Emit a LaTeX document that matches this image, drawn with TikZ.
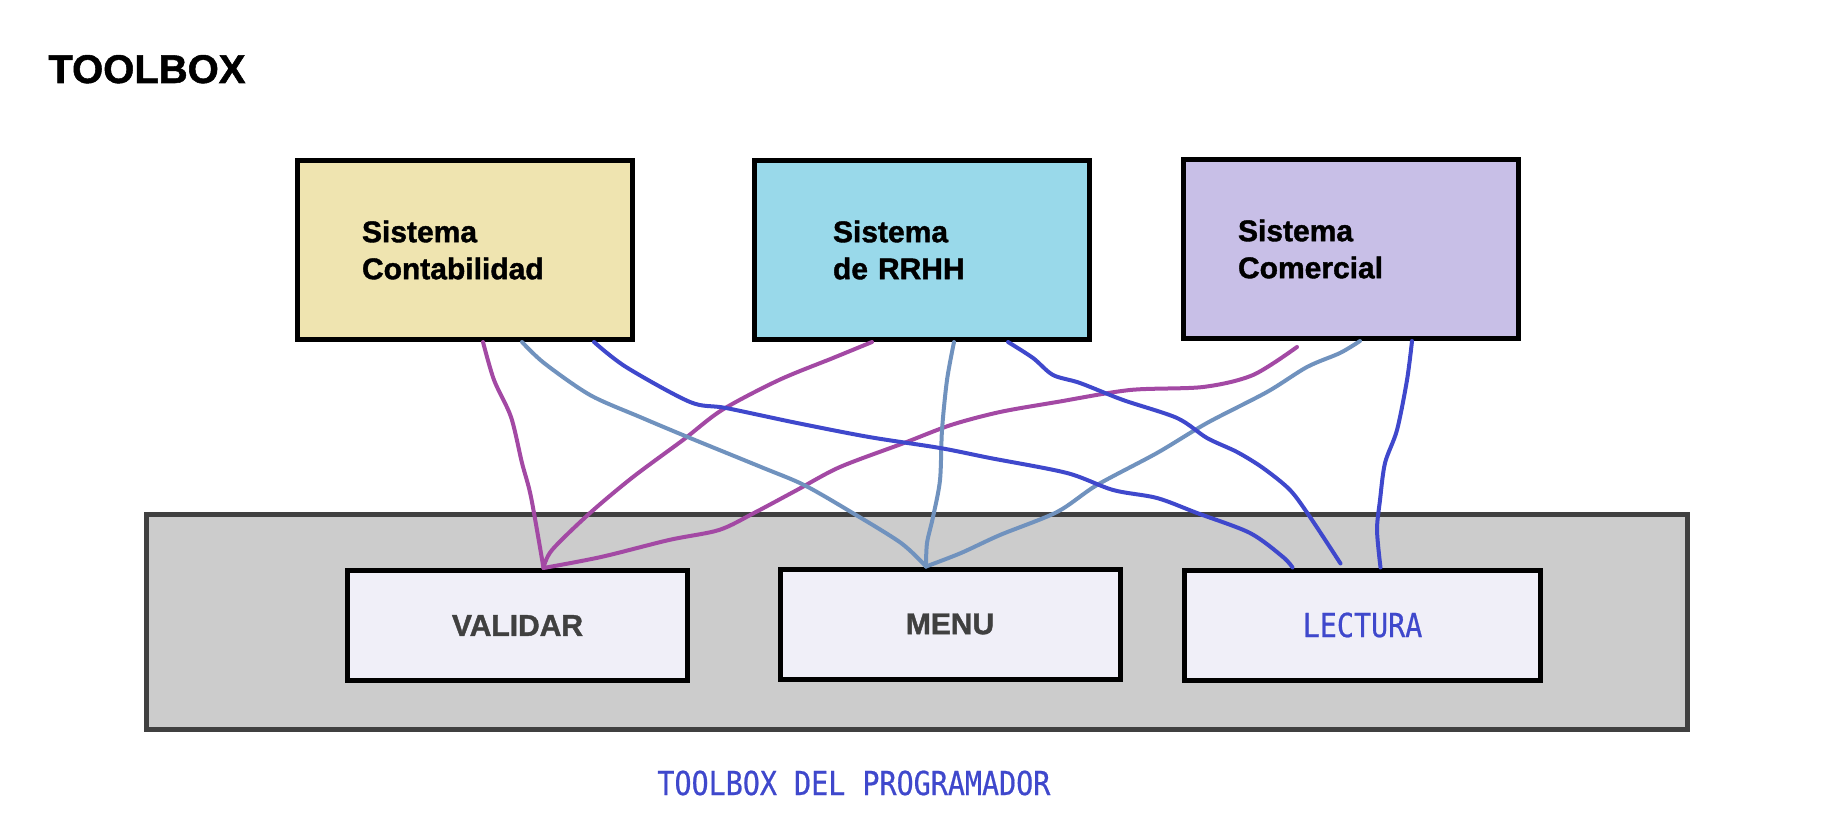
\documentclass[tikz,border=0pt]{standalone}
\usepackage{fontspec}
\setmainfont{Liberation Sans}
\newfontfamily\heavyfont[FakeBold=1.3]{Liberation Sans Bold}
\newfontfamily\monofont[FakeStretch=0.86,FakeBold=0.6]{DejaVu Sans Mono}
\usetikzlibrary{positioning}
\definecolor{tanfill}{HTML}{EFE4B0}
\definecolor{turqfill}{HTML}{99D9EA}
\definecolor{lavfill}{HTML}{C8BFE7}
\definecolor{modfill}{HTML}{F0EFF8}
\definecolor{boxgray}{HTML}{CCCCCC}
\definecolor{darkgray}{HTML}{404040}
\definecolor{indigo}{HTML}{3F48CC}
\definecolor{linkpurple}{HTML}{A349A4}
\definecolor{linkgray}{HTML}{7092BE}
\tikzset{system node/.style={draw=black, line width=2.5pt, fill=#1,
    minimum width=167.5pt, minimum height=89.5pt, inner sep=0pt, align=left,
    font=\heavyfont\fontsize{15}{18.5}\selectfont}}
\tikzset{module node/.style={draw=black, line width=2.5pt, fill=modfill,
    minimum width=170pt, minimum height=55pt, inner sep=0pt,
    font=\heavyfont\fontsize{15}{18}\selectfont, text=darkgray}}
\tikzset{link/.style={draw=#1, line width=2pt, line cap=round, line join=round}}

\begin{document}
\begin{tikzpicture}
      [x=0.5pt, y=-0.5pt]
      \useasboundingbox (0,0) rectangle (1823,839);
      \node [anchor=base west, inner sep=0pt, font=\heavyfont\fontsize{20}{24}\selectfont] (title) at (48,83) {TOOLBOX};

      \node [system node=tanfill,  text width=103pt] (conta)     at ( 465,250) {Sistema\\Contabilidad};
      \node [system node=turqfill, text width=89pt]  (rrhh)      at ( 922,250) {Sistema\\de RRHH};
      \node [system node=lavfill,  text width=113pt] (comercial) at (1351,249) {Sistema\\Comercial};

      \node [draw=darkgray, line width=2.5pt, fill=boxgray, minimum width=770.5pt, minimum height=107.75pt] (toolbox) at (917,622) {};
      \node [module node] (validar) at ( 517.5,625.5) {VALIDAR};
      \node [module node] (menu)    at ( 950,624) {MENU};
      \node [module node, minimum width=178pt, text=indigo, font=\monofont\fontsize{16.5}{20}\selectfont] (lectura) at (1362.5,625) {LECTURA};

      \node [anchor=base west, inner sep=0pt, text=indigo, font=\monofont\fontsize{16.5}{20}\selectfont] (caption) at (657,795) {TOOLBOX DEL PROGRAMADOR};

      % links to VALIDAR
      \draw [link=linkpurple] plot [smooth, tension=0.5] coordinates {([xshift=9pt]conta.south) (494,380) (511,417) (522,463) (531,497) ([xshift=13pt]validar.north)};
      \draw [link=linkpurple] plot [smooth, tension=0.5] coordinates {([xshift=-25pt]rrhh.south) (833,358) (779,380) (722,410) (683,440) (633,477) (590,513) (552,550) ([xshift=13pt]validar.north)};
      \draw [link=linkpurple] plot [smooth, tension=0.5] coordinates {([xshift=-27pt,yshift=-3pt]comercial.south) (1253,375) (1203,387) (1130,390) (1057,402) (1000,412) (951,425) (904,443) (840,467) (797,490) (754,513) (719,530) (669,540) (601,557) ([xshift=13pt]validar.north)};

      % links to MENU
      \draw [link=linkgray] plot [smooth, tension=0.5] coordinates {([xshift=28.5pt]conta.south) (544,363) (590,395) (640,417) (690,438) (761,467) (804,485) (851,512) (901,543) ([xshift=-12pt]menu.north)};
      \draw [link=linkgray] plot [smooth, tension=0.5] coordinates {([xshift=16pt]rrhh.south) (947,380) (942,430) (940,480) (933,517) (927,543) ([xshift=-12pt]menu.north)};
      \draw [link=linkgray] plot [smooth, tension=0.5] coordinates {([xshift=4.5pt]comercial.south) (1340,353) (1307,367) (1267,392) (1207,423) (1157,453) (1097,485) (1057,512) (1000,535) (961,553) ([xshift=-12pt]menu.north)};

      % links to LECTURA
      \draw [link=indigo] plot [smooth, tension=0.5] coordinates {([xshift=64.5pt]conta.south) (626,367) (690,402) (726,408) (797,423) (869,437) (940,448) (990,458) (1067,473) (1113,490) (1157,498) (1197,513) (1250,533) (1283,557) ([xshift=-35pt]lectura.north)};
      \draw [link=indigo] plot [smooth, tension=0.5] coordinates {([xshift=43pt]rrhh.south) (1033,358) (1053,375) (1080,383) (1123,400) (1177,418) (1207,438) (1237,452) (1263,468) (1290,490) (1310,517) ([xshift=-11pt,yshift=2pt]lectura.north)};
      \draw [link=indigo] plot [smooth, tension=0.5] coordinates {([xshift=30.5pt]comercial.south) (1407,380) (1397,430) (1385,463) (1380,500) (1377,530) ([xshift=9pt]lectura.north)};
    \end{tikzpicture}
\end{document}
